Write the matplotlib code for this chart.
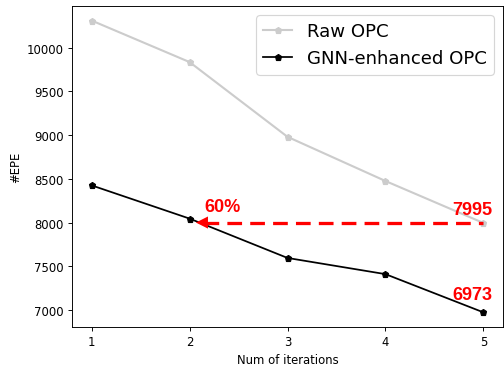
import numpy as np
import matplotlib
matplotlib.use("Agg")
import matplotlib.pyplot as plt

iters = [1, 2, 3, 4, 5]
raw_opc = [10310, 9835, 8980, 8475, 7995]
gnn_opc = [8425, 8045, 7595, 7410, 6973]
ref_level = 7995

# drawn as a 6 inch figure, saved at 84 dpi -> 504x366 px
fig = plt.figure(figsize=(6.0, 4.357))
ax = fig.add_axes([0.143, 0.104, 0.855, 0.877])

ax.plot(iters, raw_opc, marker='p', ms=6, color='#cccccc', lw=1.8, label='Raw OPC')
ax.plot(iters, gnn_opc, marker='p', ms=6, color='black', lw=1.5, label='GNN-enhanced OPC')

# dashed reference line + arrow head
ax.plot([2.15, 5], [8000, 8000], color='red', lw=2.8, dashes=(4.5, 2.5))
ax.annotate('', xy=(2.04, 8000), xytext=(2.22, 8000),
            arrowprops=dict(arrowstyle='-|>', mutation_scale=26, color='red', lw=0))

lab = dict(color='red', fontsize=15.5, fontweight='bold', family='Liberation Sans')
ax.text(2.15, 8130, '60%', **lab)
ax.text(4.68, 8096, str(ref_level), **lab)
ax.text(4.68, 7127, str(gnn_opc[-1]), **lab)

ax.set_xticks(iters)
ax.set_xlabel('Num of iterations')
ax.set_ylabel('#EPE')
ax.legend(fontsize=15.5, loc='upper right', handlelength=1.6)

fig.savefig('out.png', dpi=84)
